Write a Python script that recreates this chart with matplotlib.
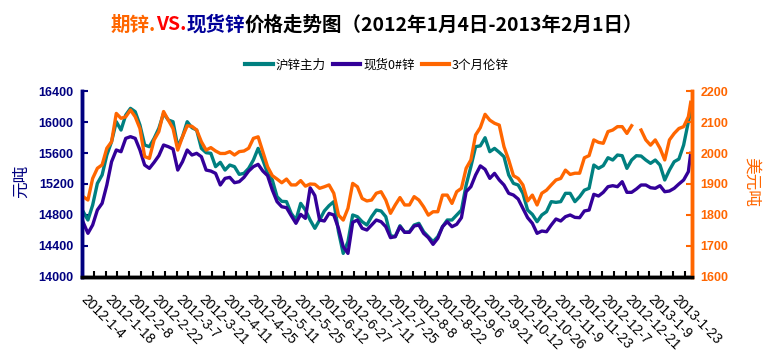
import numpy as np
import matplotlib
matplotlib.use("Agg")
import matplotlib.pyplot as plt
from matplotlib.lines import Line2D

plt.rcParams['font.family'] = ['Noto Sans CJK SC', 'DejaVu Sans']

# trading-day index of each reading (every 2nd day, plus the last day)
day_idx = list(range(0, 257, 2)) + [257]

date_labels = ["2012-1-4", "2012-1-18", "2012-2-8", "2012-2-22", "2012-3-7",
               "2012-3-21", "2012-4-11", "2012-4-25", "2012-5-11", "2012-5-25",
               "2012-6-12", "2012-6-27", "2012-7-11", "2012-7-25", "2012-8-8",
               "2012-8-22", "2012-9-6", "2012-9-21", "2012-10-12", "2012-10-26",
               "2012-11-9", "2012-11-23", "2012-12-7", "2012-12-21", "2013-1-9",
               "2013-1-23"]

# 沪锌主力 (yuan/t)
shfe_main = [
    14841, 14733, 14927, 15208, 15317, 15576, 15749, 16008, 15900, 16095,
    16181, 16138, 15965, 15706, 15684, 15792, 15922, 16116, 16030, 16008,
    15684, 15814, 16008, 15930, 15900, 15662, 15606, 15598, 15425, 15481,
    15381, 15446, 15425, 15325, 15338, 15403, 15511, 15662, 15511, 15338,
    15252, 15035, 14975, 14971, 14819, 14733, 14949, 14862, 14733, 14625,
    14733, 14850, 14919, 14971, 14581, 14300, 14452, 14798, 14776, 14711,
    14668, 14776, 14862, 14850, 14776, 14530, 14517, 14659, 14573, 14581,
    14668, 14690, 14581, 14517, 14452, 14517, 14646, 14733, 14733, 14798,
    14862, 15187, 15425, 15684, 15695, 15800, 15619, 15662, 15611, 15554,
    15317, 15208, 15187, 15079, 14862, 14806, 14711, 14798, 14841, 14971,
    14962, 14971, 15079, 15079, 14971, 15035, 15120, 15144, 15446, 15403,
    15438, 15541, 15511, 15576, 15567, 15403, 15511, 15567, 15563, 15511,
    15468, 15511, 15446, 15252, 15381, 15489, 15524, 15706, 16008, 16138]

# 现货0#锌 (yuan/t)
spot_zn = [
    14703, 14560, 14668, 14863, 14949, 15187, 15489, 15641, 15619, 15792,
    15814, 15792, 15641, 15446, 15403, 15481, 15567, 15706, 15684, 15654,
    15381, 15489, 15641, 15576, 15598, 15554, 15381, 15368, 15338, 15187,
    15273, 15286, 15217, 15230, 15286, 15368, 15425, 15455, 15368, 15308,
    15122, 14971, 14905, 14893, 14789, 14690, 14806, 14754, 15150, 15050,
    14733, 14720, 14819, 14798, 14625, 14387, 14300, 14703, 14733, 14625,
    14603, 14668, 14733, 14711, 14646, 14504, 14517, 14646, 14573, 14573,
    14655, 14668, 14560, 14504, 14417, 14495, 14646, 14711, 14646, 14677,
    14763, 15100, 15165, 15317, 15435, 15390, 15273, 15338, 15252, 15187,
    15079, 15057, 15005, 14884, 14763, 14690, 14560, 14590, 14581, 14668,
    14746, 14720, 14776, 14798, 14767, 14763, 14850, 14862, 15066, 15044,
    15092, 15165, 15178, 15165, 15230, 15092, 15092, 15135, 15187, 15187,
    15152, 15144, 15178, 15100, 15109, 15144, 15200, 15252, 15360, 15598]

# 3个月伦锌 (USD/t), nan = no quote
lme_3m = [
    1859, 1848, 1918, 1951, 1962, 2016, 2037, 2129, 2113, 2118,
    2140, 2118, 2080, 1989, 1983, 2043, 2070, 2135, 2107, 2080,
    2010, 2053, 2089, 2087, 2075, 2037, 2010, 2018, 2007, 1999,
    1999, 2005, 1994, 2005, 2007, 2016, 2048, 2053, 2005, 1956,
    1927, 1916, 1904, 1916, 1897, 1897, 1911, 1893, 1900, 1899,
    1886, 1891, 1897, 1870, 1799, 1783, 1821, 1902, 1891, 1853,
    1845, 1848, 1870, 1875, 1848, 1805, 1832, 1856, 1832, 1832,
    1859, 1848, 1826, 1799, 1810, 1810, 1864, 1864, 1837, 1875,
    1886, 1951, 1978, 2059, 2083, 2126, 2107, 2097, 2091, 2021,
    1978, 1927, 1918, 1897, 1845, 1864, 1832, 1870, 1880, 1897,
    1913, 1918, 1945, 1931, 1935, 1935, 1985, 1992, 2043, 2035,
    2032, 2070, 2075, 2086, 2086, 2064, 2089, np.nan, 2075, 2043,
    2026, 2043, 2016, 1978, 2043, 2064, 2080, 2086, 2118, 2165]

TEAL = "#008080"
PURPLE = "#330099"
ORANGE = "#FF6600"
NAVY = "#000080"
num_font = "Liberation Sans"

fig = plt.figure(figsize=(7.73, 3.56), dpi=100)
ax = fig.add_axes([0.1061, 0.2233, 0.789, 0.5197])
ax2 = ax.twinx()

ax.plot(day_idx, shfe_main, color=TEAL, lw=2.4)
ax.plot(day_idx, spot_zn, color=PURPLE, lw=2.4)
ax2.plot(day_idx, lme_3m, color=ORANGE, lw=2.4)

ax.set_xlim(-0.5, 257.5)
ax.set_ylim(14000, 16400)
ax2.set_ylim(1600, 2200)

ax.set_yticks(np.arange(14000, 16401, 400))
ax2.set_yticks(np.arange(1600, 2201, 100))
for lab in ax.get_yticklabels() + ax2.get_yticklabels():
    lab.set_family(num_font)
    lab.set_weight("bold")
ax.tick_params(axis="y", direction="in", length=4, width=1.5, color=NAVY,
               labelcolor=NAVY, labelsize=9, pad=6)
ax2.tick_params(axis="y", direction="in", length=4, width=1.5, color=ORANGE,
                labelcolor=ORANGE, labelsize=9, pad=6)

# x axis: tick marks every 5 days, labels every 10 days
ax.set_xticks(np.arange(-0.5, 258, 5), minor=True)
ax.set_xticks(np.arange(0, 251, 10))
ax.set_xticklabels(date_labels, rotation=-45, ha="left", va="center",
                   rotation_mode="anchor", family=num_font, fontsize=10)
ax.tick_params(axis="x", which="major", length=0, pad=15)
ax.tick_params(axis="x", which="minor", direction="in", length=4, width=1.5,
               color="black")

for a in (ax, ax2):
    a.spines["top"].set_visible(False)
    a.spines["left"].set_color(NAVY)
    a.spines["left"].set_linewidth(2.5)
    a.spines["right"].set_color(ORANGE)
    a.spines["right"].set_linewidth(2.5)
    a.spines["bottom"].set_color("black")
    a.spines["bottom"].set_linewidth(2.5)

fig.text(0.028, 0.49, "元吨", rotation=90, color=NAVY, fontsize=12,
         ha="center", va="center")
fig.text(0.972, 0.49, "美元吨", rotation=-90, color=ORANGE, fontsize=12,
         ha="center", va="center")

# title in coloured pieces, laid end to end
pieces = [("期锌.", ORANGE), ("VS.", "#FF0000"), ("现货锌", "#000099"),
          ("价格走势图（2012年1月4日-2013年2月1日）", "black")]
renderer = fig.canvas.get_renderer()
texts = []
for s, c in pieces:
    t = fig.text(0, 0.93, s, color=c, fontsize=14, weight="bold",
                 ha="left", va="center")
    texts.append(t)
widths = [t.get_window_extent(renderer).width for t in texts]
x = 0.488 * fig.bbox.width - sum(widths) / 2
for t, w in zip(texts, widths):
    t.set_x(x / fig.bbox.width)
    x += w

handles = [Line2D([], [], color=TEAL, lw=3),
           Line2D([], [], color=PURPLE, lw=3),
           Line2D([], [], color=ORANGE, lw=3)]
fig.legend(handles, ["沪锌主力", "现货0#锌", "3个月伦锌"], loc="center",
           bbox_to_anchor=(0.488, 0.817), ncol=3, frameon=False, fontsize=9,
           handlelength=2.2, handletextpad=0.2, columnspacing=0.6)

fig.savefig("out.png", dpi=100)
